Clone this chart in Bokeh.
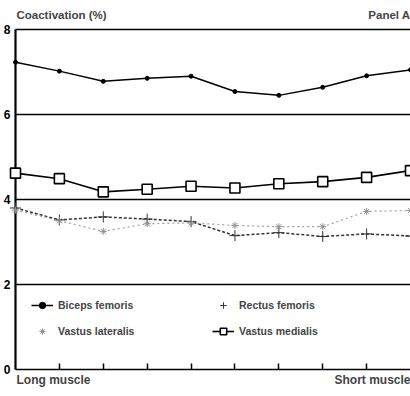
from bokeh.plotting import figure
from bokeh.models import Label, Legend, LegendItem, FixedTicker, ColumnDataSource
from bokeh.embed import file_html
from bokeh.resources import INLINE

positions = list(range(10))
biceps_femoris = [7.23, 7.02, 6.78, 6.85, 6.90, 6.54, 6.45, 6.64, 6.91, 7.05]
vastus_medialis = [4.62, 4.49, 4.18, 4.24, 4.31, 4.27, 4.37, 4.42, 4.52, 4.68]
rectus_femoris = [3.80, 3.52, 3.59, 3.54, 3.48, 3.15, 3.22, 3.13, 3.19, 3.14]
vastus_lateralis = [3.75, 3.50, 3.25, 3.43, 3.45, 3.39, 3.36, 3.36, 3.72, 3.74]
y_ticks = [0, 2, 4, 6, 8]
grid_ticks = [2, 4, 6, 8]
x_ticks = [1, 2, 3, 4, 5, 6, 7, 8]

FONT = "Liberation Sans"

p = figure(width=410, height=396, x_range=(-0.3417, 9.0), y_range=(-0.635, 8.682),
           output_backend="svg", toolbar_location=None,
           min_border=0)
p.outline_line_color = None
p.background_fill_color = "white"
p.xgrid.visible = False
p.ygrid.visible = False

p.yaxis.fixed_location = 0
p.yaxis.ticker = FixedTicker(ticks=y_ticks)
p.yaxis.axis_line_color = None
p.yaxis.major_tick_out = 0
p.yaxis.major_tick_in = 0
p.yaxis.minor_tick_line_color = None
p.yaxis.major_label_standoff = 5
p.yaxis.major_label_text_font = FONT
p.yaxis.major_label_text_font_style = "bold"
p.yaxis.major_label_text_font_size = "12px"
p.yaxis.major_label_text_color = "black"

p.xaxis.fixed_location = 0
p.xaxis.ticker = FixedTicker(ticks=x_ticks)
p.xaxis.axis_line_width = 1.6
p.xaxis.major_tick_in = 6
p.xaxis.major_tick_out = 0
p.xaxis.major_tick_line_width = 1.5
p.xaxis.minor_tick_line_color = None
p.xaxis.major_label_overrides = {t: "" for t in x_ticks}
p.xaxis.bounds = (0, 9)

# horizontal reference lines starting at the y axis, and the y axis line itself (0..8)
p.segment(x0=0, x1=9, y0=grid_ticks, y1=grid_ticks, line_color="black", line_width=1.6)
p.line(x=[0, 0], y=[y_ticks[0], y_ticks[-1]], line_color="black", line_width=2.2)

src = ColumnDataSource(dict(x=positions, bf=biceps_femoris, vm=vastus_medialis,
                            rf=rectus_femoris, vl=vastus_lateralis))

bf_l = p.line("x", "bf", source=src, line_color="black", line_width=1.5)
bf_m = p.scatter("x", "bf", source=src, marker="circle", size=4, color="black")
rf_l = p.line("x", "rf", source=src, line_color="#333333", line_width=1.5, line_dash="3 2")
rf_m = p.scatter("x", "rf", source=src, marker="cross", size=11, line_color="#333333", line_width=1)
vl_l = p.line("x", "vl", source=src, line_color="#a0a0a0", line_width=1.2, line_dash="2 3")
vl_m = p.scatter("x", "vl", source=src, marker="asterisk", size=7, line_color="#909090", line_width=1)
vm_l = p.line("x", "vm", source=src, line_color="black", line_width=1.6)
vm_m = p.scatter("x", "vm", source=src, marker="square", size=10, line_color="black",
                 fill_color="white", line_width=1.6)

legend = Legend(items=[
    LegendItem(label="Biceps femoris", renderers=[bf_l, bf_m]),
    LegendItem(label="Vastus lateralis", renderers=[vl_m]),
    LegendItem(label="Rectus femoris", renderers=[rf_m]),
    LegendItem(label="Vastus medialis", renderers=[vm_l, vm_m]),
], ncols=2, location=(31, 57), background_fill_alpha=0, border_line_color=None,
    padding=0, margin=0, glyph_width=22, glyph_height=16, label_height=16,
    label_standoff=5, spacing=10, label_width=144,
    label_text_font=FONT, label_text_font_style="bold", label_text_font_size="10.5px")
p.add_layout(legend, "center")

p.add_layout(Label(x=0, y=8.19, text="Coactivation (%)", text_font=FONT, text_font_style="bold",
                   text_font_size="11.5px", text_baseline="bottom", text_align="left", x_offset=1))
p.add_layout(Label(x=8.04, y=8.19, text="Panel A", text_font=FONT, text_font_style="bold",
                   text_font_size="11.5px", text_baseline="bottom", text_align="left"))
p.add_layout(Label(x=0, y=-0.4, text="Long muscle", text_font=FONT, text_font_style="bold",
                   text_font_size="12px", text_baseline="bottom", text_align="left", x_offset=1))
p.add_layout(Label(x=9, y=-0.4, text="Short muscle", text_font=FONT, text_font_style="bold",
                   text_font_size="12px", text_baseline="bottom", text_align="right"))

open("out.html", "w").write(file_html(p, INLINE))
